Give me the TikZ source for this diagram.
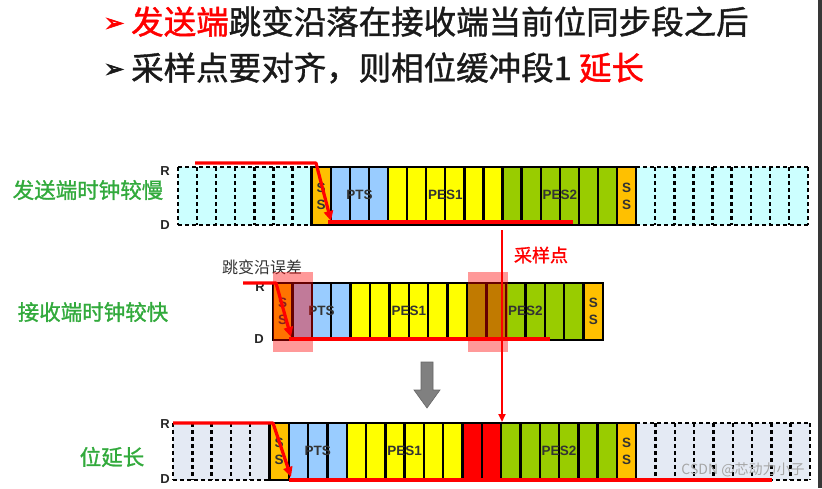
\documentclass[tikz,border=0pt]{standalone}
\usepackage{fontspec}
\setmainfont{Liberation Sans}
\newfontfamily\cjk{Noto Sans CJK SC}
\newfontfamily\cjkb{Noto Sans CJK SC}[FakeBold=1.2]
\newfontfamily\dvs{DejaVu Sans}[FakeBold=3]
\usetikzlibrary{arrows.meta}
\definecolor{ssc}{HTML}{FFC000}
\definecolor{ptsc}{HTML}{99CCFF}
\definecolor{pesa}{HTML}{FFFF00}
\definecolor{pesb}{HTML}{99CC00}
\definecolor{cyanc}{HTML}{CCFFFF}
\definecolor{greyc}{HTML}{E4EAF4}
\definecolor{lblgreen}{RGB}{50,170,60}
\definecolor{rd}{HTML}{FF0000}
\definecolor{txt}{HTML}{1A1A1A}
\tikzset{
  solidcell/.style={draw=black, line width=2.4pt},
  dashcell/.style={draw=black, line width=2.4pt, dash pattern=on 4pt off 3pt},
  redline/.style={draw=rd, line width=3.2pt, line join=round},
  redtip/.style={-{Triangle[length=10pt,width=9pt]}},
  celltext/.style={font=\bfseries\fontsize{13.5}{17}\selectfont, text=black!80, align=center, inner sep=0pt},
  rdlabel/.style={font=\bfseries\fontsize{13}{13}\selectfont, text=black!85, inner sep=0pt},
  sidelabel/.style={font=\cjkb\fontsize{21.5}{21.5}\selectfont, text=lblgreen, inner sep=0pt},
  overlay/.style={fill=rd, fill opacity=0.4},
}
% #1 style, #2 x0, #3 w, #4 top, #5 bottom, #6 from, #7 to, #8 colour
\newcommand\solidcells[8]{%
  \foreach \i in {#6,...,#7}{%
    \path[#1,fill=#8] ({#2+\i*#3},#4) rectangle ({#2+\i*#3+#3},#5);
  }}
% #1 x0, #2 w, #3 top, #4 bottom, #5 from, #6 to, #7 colour
\newcommand\dashblock[7]{%
  \path[fill=#7] ({#1+#5*#2},#3) rectangle ({#1+#6*#2+#2},#4);
  \foreach \i in {#5,...,#6}{%
    \draw[dashcell] ({#1+\i*#2},#3) -- ({#1+\i*#2},#4);
  }
  \draw[dashcell] ({#1+#6*#2+#2},#3) -- ({#1+#6*#2+#2},#4);
  \draw[dashcell] ({#1+#5*#2},#3) -- ({#1+#6*#2+#2},#3);
  \draw[dashcell] ({#1+#5*#2},#4) -- ({#1+#6*#2+#2},#4);
}
\begin{document}
\begin{tikzpicture}[x=1pt,y=-1pt]
\useasboundingbox (0,0) rectangle (822,488);
\fill[white] (0,0) rectangle (822,488);
\fill[black!78] (818,0) rectangle (822,488);

% ---------- title ----------
\node[anchor=base west, inner sep=0pt, text=rd, font=\dvs\fontsize{24}{24}\selectfont] (b1) at (104,31) {➢};
\node[anchor=base west, inner sep=0pt, text=txt, font=\cjkb\fontsize{32.5}{32.5}\selectfont] (t1) at (131,34) {\textcolor{rd}{发送端}跳变沿落在接收端当前位同步段之后};
\node[anchor=base west, inner sep=0pt, text=txt, font=\dvs\fontsize{24}{24}\selectfont] (b2) at (104,77) {➢};
\node[anchor=base west, inner sep=0pt, text=txt, font=\cjkb\fontsize{32.5}{32.5}\selectfont] (t2) at (131,80) {采样点要对齐，则相位缓冲段1 \textcolor{rd}{延长}};

% ---------- side labels ----------
\node[sidelabel] (l1) at (88,190) {发送端时钟较慢};
\node[sidelabel] (l2) at (93,312) {接收端时钟较快};
\node[sidelabel] (l3) at (112,457) {位延长};

% ---------- row 1 : sender slow ----------
\dashblock{178}{19.09}{167}{225}{0}{6}{cyanc}
\dashblock{178}{19.09}{167}{225}{24}{32}{cyanc}
\solidcells{solidcell}{178}{19.09}{167}{225}{7}{7}{ssc}
\solidcells{solidcell}{178}{19.09}{167}{225}{8}{10}{ptsc}
\solidcells{solidcell}{178}{19.09}{167}{225}{11}{16}{pesa}
\solidcells{solidcell}{178}{19.09}{167}{225}{17}{22}{pesb}
\solidcells{solidcell}{178}{19.09}{167}{225}{23}{23}{ssc}
\node[celltext] (r1ss) at (321.2,196) {S\\S};
\node[celltext] (r1pts) at (359.4,195) {PTS};
\node[celltext] (r1pes1) at (445.3,195) {PES1};
\node[celltext] (r1pes2) at (559.8,195) {PES2};
\node[celltext] (r1ss2) at (626.6,196) {S\\S};
\node[rdlabel] (r1R) at (165,171) {R};
\node[rdlabel] (r1D) at (165,225) {D};

% ---------- row 2 : receiver fast ----------
\solidcells{solidcell}{273}{19.41}{283}{340}{0}{0}{ssc}
\solidcells{solidcell}{273}{19.41}{283}{340}{1}{3}{ptsc}
\solidcells{solidcell}{273}{19.41}{283}{340}{4}{9}{pesa}
\solidcells{solidcell}{273}{19.41}{283}{340}{10}{15}{pesb}
\solidcells{solidcell}{273}{19.41}{283}{340}{16}{16}{ssc}
\node[celltext] (r2ss) at (282.7,311.5) {S\\S};
\node[celltext] (r2pts) at (321.5,310.5) {PTS};
\node[celltext] (r2pes1) at (408.9,310.5) {PES1};
\node[celltext] (r2pes2) at (525.3,310.5) {PES2};
\node[celltext] (r2ss2) at (593.3,311.5) {S\\S};
\node[rdlabel] (r2R) at (260,287) {R};
\node[rdlabel] (r2D) at (259,339) {D};
\node[font=\cjk\fontsize{16}{16}\selectfont, text=black!80, inner sep=0pt] (err) at (262,267) {跳变沿误差};
\path[overlay] (273,272) rectangle (313,352);
\path[overlay] (468,272) rectangle (508,352);

% ---------- row 3 : bit lengthened ----------
\dashblock{173}{19.3}{423}{480}{0}{4}{greyc}
\dashblock{173}{19.3}{423}{480}{24}{32}{greyc}
\solidcells{solidcell}{173}{19.3}{423}{480}{5}{5}{ssc}
\solidcells{solidcell}{173}{19.3}{423}{480}{6}{8}{ptsc}
\solidcells{solidcell}{173}{19.3}{423}{480}{9}{14}{pesa}
\solidcells{solidcell}{173}{19.3}{423}{480}{15}{16}{rd}
\solidcells{solidcell}{173}{19.3}{423}{480}{17}{22}{pesb}
\solidcells{solidcell}{173}{19.3}{423}{480}{23}{23}{ssc}
\node[celltext] (r3ss) at (279.2,451.5) {S\\S};
\node[celltext] (r3pts) at (317.8,450.5) {PTS};
\node[celltext] (r3pes1) at (404.6,450.5) {PES1};
\node[celltext] (r3pes2) at (559,450.5) {PES2};
\node[celltext] (r3ss2) at (626.6,451.5) {S\\S};
\node[rdlabel] (r3R) at (165,424) {R};
\node[rdlabel] (r3D) at (165,479) {D};

% ---------- red signal lines ----------
\coordinate (a1) at (195,163); \coordinate (a2) at (316,163); \coordinate (a3) at (331,221);
\coordinate (a4) at (328,222); \coordinate (a5) at (573,222);
\draw[redline,redtip] (a1) -- (a2) -- (a3);
\draw[redline] (a4) -- (a5);
\coordinate (b1s) at (243,283); \coordinate (b2s) at (276,283); \coordinate (b3s) at (291,337);
\coordinate (b4s) at (289,339); \coordinate (b5s) at (550,339);
\draw[redline,redtip] (b1s) -- (b2s) -- (b3s);
\draw[redline] (b4s) -- (b5s);
\coordinate (c1) at (173,423); \coordinate (c2) at (273,423); \coordinate (c3) at (291,477);
\coordinate (c4) at (289,480); \coordinate (c5) at (772,480);
\draw[redline,redtip] (c1) -- (c2) -- (c3);
\draw[redline] (c4) -- (c5);

% sampling point
\coordinate (s1) at (502,230); \coordinate (s2) at (502,422);
\draw[rd, line width=2pt, -{Triangle[length=8pt,width=7pt]}] (s1) -- (s2);
\node[font=\cjkb\fontsize{18}{18}\selectfont, text=rd, inner sep=0pt] (samp) at (541,255) {采样点};

% grey block arrow
\path[fill=black!50, draw=black!60, line width=0.6pt] (421,362) -- (433,362) -- (433,390) -- (440,390) -- (427,408) -- (414,390) -- (421,390) -- cycle;

% watermark
\node[font=\cjk\fontsize{14}{14}\selectfont, text=black!35, inner sep=0pt] (wm) at (743,470) {CSDN @芯动力小子};
\end{tikzpicture}
\end{document}
